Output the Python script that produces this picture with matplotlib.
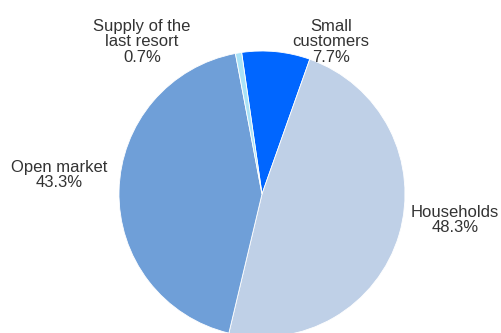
import matplotlib
matplotlib.use("Agg")
import matplotlib.pyplot as plt

# Customer segments, listed clockwise from the top
segments = ["Small\ncustomers", "Households", "Open market", "Supply of the\nlast resort"]
shares = [7.7, 48.3, 43.3, 0.7]
colors = ["#0066FF", "#BFD0E7", "#6F9FD8", "#A9E2F7"]

plt.rcParams["font.family"] = ["Liberation Sans", "DejaVu Sans"]

W, H = 501, 333
fig = plt.figure(figsize=(W / 100, H / 100), dpi=100)
ax = fig.add_axes([0, 0, 1, 1])

cx, cy, r = 262, H - 194, 143
ax.pie(shares, colors=colors, startangle=98.2, counterclock=False,
       center=(cx, cy), radius=r,
       wedgeprops=dict(edgecolor="white", linewidth=0.6))

# Label anchors (pixel positions, y measured from the top)
label_pos = [(331, 42), (455, 220), (59, 175), (142, 42)]
for name, val, (x, y) in zip(segments, shares, label_pos):
    ax.text(x, H - y, f"{name}\n{val:.1f}%", ha="center", va="center",
            fontsize=12, color="#333333", linespacing=1.05)

ax.set_xlim(0, W)
ax.set_ylim(0, H)
ax.set_aspect("equal")
ax.axis("off")

fig.savefig("out.png", dpi=100, facecolor="white")
